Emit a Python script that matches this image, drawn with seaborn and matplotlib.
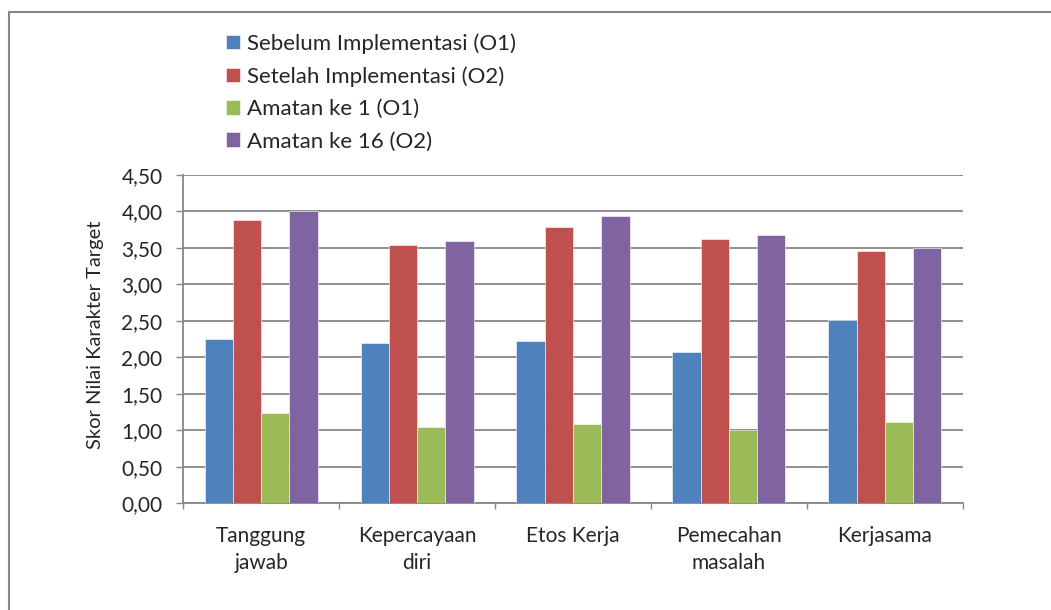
import matplotlib.pyplot as plt
import matplotlib.patches as mpatches
import numpy as np
import pandas as pd
import seaborn as sns

categories = ['Tanggung\njawab', 'Kepercayaan\ndiri', 'Etos Kerja', 'Pemecahan\nmasalah', 'Kerjasama']
series_names = ['Sebelum Implementasi (O1)', 'Setelah Implementasi (O2)',
                'Amatan ke 1 (O1)', 'Amatan ke 16 (O2)']
sebelum = [2.25, 2.19, 2.22, 2.07, 2.51]
setelah = [3.88, 3.54, 3.79, 3.62, 3.46]
amatan1 = [1.23, 1.04, 1.08, 1.01, 1.11]
amatan16 = [4.00, 3.59, 3.94, 3.68, 3.50]
colors = ['#4F81BD', '#C0504D', '#9BBB59', '#8064A2']
y_ticks = [0, 0.5, 1, 1.5, 2, 2.5, 3, 3.5, 4, 4.5]

df = pd.DataFrame({'kategori': categories * 4,
                   'seri': np.repeat(series_names, len(categories)),
                   'skor': sebelum + setelah + amatan1 + amatan16})

sns.set_style('white')
plt.rcParams['font.family'] = ['Lato', 'DejaVu Sans']
fs = 15
grid_col = '#878787'

fig = plt.figure(figsize=(10.51, 6.10), dpi=100)
ax = fig.add_axes([0.1744, 0.1749, 0.916 - 0.1744, 0.7136 - 0.1749])

sns.barplot(data=df, x='kategori', y='skor', hue='seri', palette=colors,
            width=0.725, gap=0, ax=ax, edgecolor='white', linewidth=0.4,
            saturation=1, zorder=3)

ax.set_ylim(0, 4.5)
ax.set_xlim(-0.5, len(categories) - 0.5)
ax.set_yticks(y_ticks)
ax.set_yticklabels([f'{v:.2f}'.replace('.', ',') for v in y_ticks], fontsize=fs)
ax.yaxis.grid(True, color=grid_col, linewidth=1.3, zorder=0)
ax.set_axisbelow(True)
ax.tick_params(axis='y', length=5, width=1, color=grid_col, pad=10, left=True)
ax.set_xticks(range(len(categories)))
ax.set_xticklabels(categories, fontsize=fs, linespacing=1.45)
ax.tick_params(axis='x', which='major', length=0, pad=16)
ax.set_xticks(np.arange(-0.5, len(categories)), minor=True)
ax.tick_params(axis='x', which='minor', length=4, width=1, color=grid_col, bottom=True)
for s in ['top', 'right']:
    ax.spines[s].set_visible(False)
for s in ['left', 'bottom']:
    ax.spines[s].set_color(grid_col)
    ax.spines[s].set_linewidth(1.3)
ax.set_xlabel('')
ax.set_ylabel('')
fig.text(95 / 1051, 1 - 335 / 610, 'Skor Nilai Karakter Target', rotation=90,
         ha='center', va='center', fontsize=14.5)

handles, labels = ax.get_legend_handles_labels()
ax.get_legend().remove()
fig.legend(handles, labels, loc='upper left', bbox_to_anchor=(226 / 1051, 1 - 33 / 610),
           frameon=False, fontsize=16, handlelength=0.63, handleheight=0.63,
           handletextpad=0.3, labelspacing=0.56, borderpad=0, borderaxespad=0)

fig.patches.append(mpatches.Rectangle((9 / 1051, -0.2), 1.2, 1.2 - 12 / 610,
                                      transform=fig.transFigure, fill=False,
                                      edgecolor=grid_col, linewidth=1.5))

fig.savefig('out.png', dpi=100)
